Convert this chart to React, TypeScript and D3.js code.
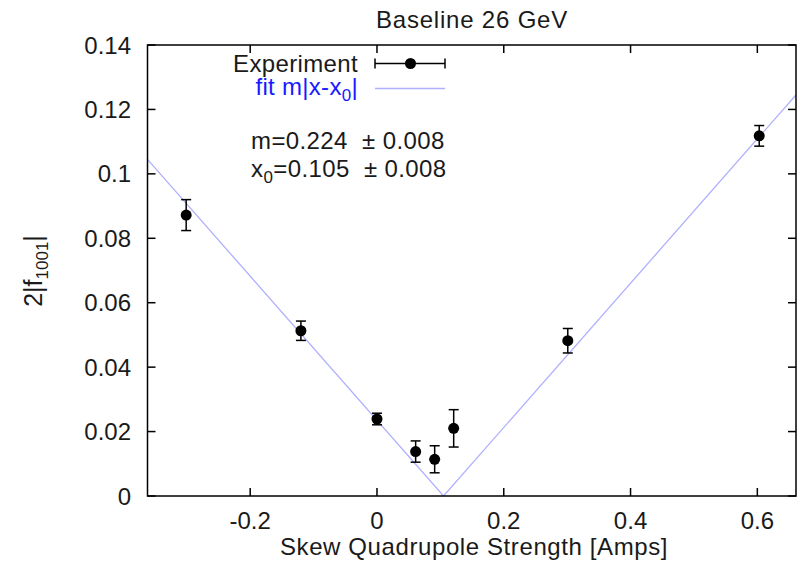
import { useEffect, useRef } from 'react';
import * as d3 from 'd3';

// measured points (x in Amps, y = 2|f1001|, err = half error bar)
const pointX = [-0.301, -0.12, 0.0, 0.061, 0.091, 0.121, 0.301, 0.603];
const pointY = [0.0872, 0.0513, 0.0239, 0.0138, 0.0114, 0.021, 0.0482, 0.1118];
const pointErr = [0.0048, 0.003, 0.0018, 0.0033, 0.0042, 0.0058, 0.0038, 0.0032];

// fit line m|x-x0| (ends + vertex)
const fitX = [-0.362, 0.105, 0.661];
const fitY = [0.1045, 0, 0.1245];

const xTicks = [-0.2, 0, 0.2, 0.4, 0.6];
const xTickLabels = ['-0.2', '0', '0.2', '0.4', '0.6'];
const yTicks = [0, 0.02, 0.04, 0.06, 0.08, 0.1, 0.12, 0.14];
const yTickLabels = ['0', '0.02', '0.04', '0.06', '0.08', '0.1', '0.12', '0.14'];

const FONT = '"Liberation Sans", Arial, sans-serif';

export default function App() {
  const svgRef = useRef<SVGSVGElement>(null);

  useEffect(() => {
    if (!svgRef.current) return;
    const svg = d3.select(svgRef.current);
    svg.selectAll('*').remove();

    const left = 147.5;
    const right = 796;
    const top = 45;
    const bottom = 496;

    const x = d3.scaleLinear().domain([-0.362, 0.661]).range([left, right]);
    const y = d3.scaleLinear().domain([0, 0.14]).range([bottom, top]);

    // 拟合线
    const clipId = 'plot-clip';
    svg
      .append('clipPath')
      .attr('id', clipId)
      .append('rect')
      .attr('x', left)
      .attr('y', top)
      .attr('width', right - left)
      .attr('height', bottom - top);

    const line = d3
      .line<number>()
      .x((_, i) => x(fitX[i]))
      .y((d) => y(d));

    svg
      .append('path')
      .datum(fitY)
      .attr('clip-path', `url(#${clipId})`)
      .attr('d', line)
      .attr('fill', 'none')
      .attr('stroke', '#b0b0ff')
      .attr('stroke-width', 1.3);

    // 误差棒和点
    const pts = svg.append('g');
    pointX.forEach((px, i) => {
      const cx = x(px);
      const g = pts.append('g').attr('stroke', '#000').attr('stroke-width', 1.5);
      g.append('line')
        .attr('x1', cx)
        .attr('x2', cx)
        .attr('y1', y(pointY[i] - pointErr[i]))
        .attr('y2', y(pointY[i] + pointErr[i]));
      [pointY[i] - pointErr[i], pointY[i] + pointErr[i]].forEach((v) => {
        g.append('line')
          .attr('x1', cx - 5)
          .attr('x2', cx + 5)
          .attr('y1', y(v))
          .attr('y2', y(v));
      });
      pts.append('circle').attr('cx', cx).attr('cy', y(pointY[i])).attr('r', 5.5).attr('fill', '#000');
    });

    // 边框与刻度（向内）
    const frame = svg.append('g').attr('stroke', '#000').attr('stroke-width', 1.5);
    frame
      .append('rect')
      .attr('x', left)
      .attr('y', top)
      .attr('width', right - left)
      .attr('height', bottom - top)
      .attr('fill', 'none');
    const tl = 8;
    xTicks.forEach((t) => {
      frame.append('line').attr('x1', x(t)).attr('x2', x(t)).attr('y1', bottom).attr('y2', bottom - tl);
      frame.append('line').attr('x1', x(t)).attr('x2', x(t)).attr('y1', top).attr('y2', top + tl);
    });
    yTicks.forEach((t) => {
      frame.append('line').attr('x1', left).attr('x2', left + tl).attr('y1', y(t)).attr('y2', y(t));
      frame.append('line').attr('x1', right).attr('x2', right - tl).attr('y1', y(t)).attr('y2', y(t));
    });

    const txt = svg.append('g').attr('font-family', FONT).attr('font-size', 24).attr('fill', '#1a1a1a');

    xTicks.forEach((t, i) => {
      txt
        .append('text')
        .attr('x', x(t))
        .attr('y', 529)
        .attr('text-anchor', 'middle')
        .text(xTickLabels[i]);
    });
    yTicks.forEach((t, i) => {
      txt
        .append('text')
        .attr('x', 131)
        .attr('y', y(t) + 8.5)
        .attr('text-anchor', 'end')
        .text(yTickLabels[i]);
    });

    // 标题和轴标签
    txt
      .append('text')
      .attr('x', 472)
      .attr('y', 28)
      .attr('text-anchor', 'middle')
      .attr('letter-spacing', 0.8)
      .text('Baseline 26 GeV');
    txt
      .append('text')
      .attr('x', 474)
      .attr('y', 555)
      .attr('text-anchor', 'middle')
      .attr('letter-spacing', 0.6)
      .text('Skew Quadrupole Strength [Amps]');

    const ylab = txt
      .append('text')
      .attr('transform', 'translate(42,271) rotate(-90)')
      .attr('text-anchor', 'middle')
      .attr('font-size', 25);
    ylab.append('tspan').text('2|f');
    ylab.append('tspan').attr('font-size', 17).attr('dy', 6).text('1001');
    ylab.append('tspan').attr('dy', -6).text('|');

    // 图例
    const legY1 = 63.5;
    const legY2 = 88.5;
    txt
      .append('text')
      .attr('x', 358)
      .attr('y', 72)
      .attr('text-anchor', 'end')
      .attr('letter-spacing', 0.35)
      .text('Experiment');
    const fitLab = txt
      .append('text')
      .attr('x', 358)
      .attr('y', 95)
      .attr('text-anchor', 'end')
      .attr('letter-spacing', 0.3)
      .attr('fill', '#1a1aff');
    fitLab.append('tspan').text('fit m|x-x');
    fitLab.append('tspan').attr('font-size', 17).attr('dy', 6).text('0');
    fitLab.append('tspan').attr('dy', -6).text('|');

    const leg = svg.append('g').attr('stroke', '#000').attr('stroke-width', 1.5);
    leg.append('line').attr('x1', 375).attr('x2', 445).attr('y1', legY1).attr('y2', legY1);
    leg.append('line').attr('x1', 375).attr('x2', 375).attr('y1', legY1 - 5).attr('y2', legY1 + 5);
    leg.append('line').attr('x1', 445).attr('x2', 445).attr('y1', legY1 - 5).attr('y2', legY1 + 5);
    svg.append('circle').attr('cx', 410.5).attr('cy', legY1).attr('r', 5.5).attr('fill', '#000');
    svg
      .append('line')
      .attr('x1', 375)
      .attr('x2', 445)
      .attr('y1', legY2)
      .attr('y2', legY2)
      .attr('stroke', '#b0b0ff')
      .attr('stroke-width', 1.3);

    // 拟合参数
    txt
      .append('text')
      .attr('x', 251)
      .attr('y', 149)
      .attr('letter-spacing', 0.4)
      .attr('xml:space', 'preserve')
      .text('m=0.224  \u00b1 0.008');
    const x0 = txt
      .append('text')
      .attr('x', 251)
      .attr('y', 177)
      .attr('letter-spacing', 0.4)
      .attr('xml:space', 'preserve');
    x0.append('tspan').text('x');
    x0.append('tspan').attr('font-size', 17).attr('dy', 6).text('0');
    x0.append('tspan').attr('dy', -6).text('=0.105  \u00b1 0.008');
  }, []);

  return (
    <svg
      ref={svgRef}
      width={803}
      height={561}
      style={{ position: 'absolute', left: 0, top: 0, background: '#fff', whiteSpace: 'pre' }}
    />
  );
}
